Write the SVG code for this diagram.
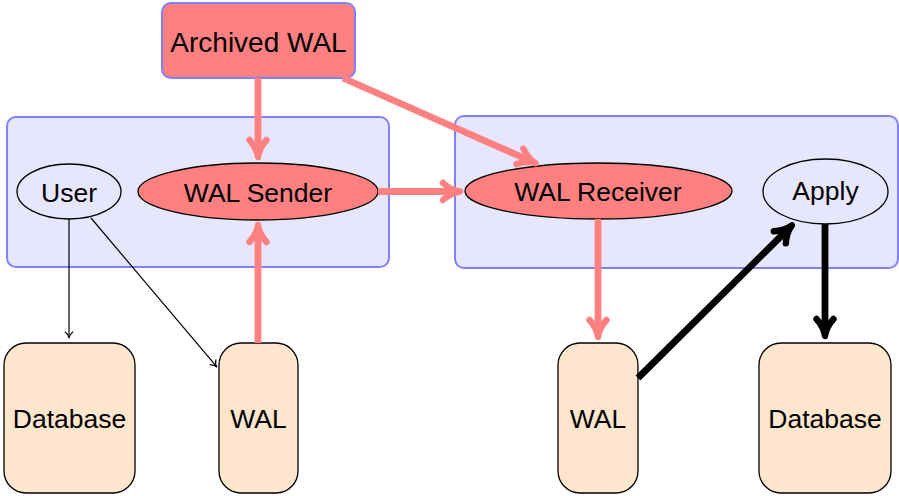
<svg xmlns="http://www.w3.org/2000/svg" width="899" height="496" viewBox="0 0 899 496">
<style>
.container{fill:#e6e6ff;stroke:#8080ff;stroke-width:2}
.archive{fill:#ff8080;stroke:#8080ff;stroke-width:2}
.proc{fill:#e6e6ff;stroke:#000;stroke-width:1.3}
.walproc{fill:#ff8080;stroke:#000;stroke-width:1.3}
.store{fill:#ffe6cc;stroke:#000;stroke-width:1.3}
text{font-family:"Liberation Sans",Arial,sans-serif;font-size:26.5px;fill:#000;text-anchor:middle}
.big{font-size:28px}
.pink{stroke:#ff8080;stroke-width:6.8;fill:none}
.black{stroke:#000;stroke-width:6.8;fill:none}
.thin{stroke:#000;stroke-width:1.2;fill:none}
</style>
<defs>
<marker id="ahPink" markerUnits="userSpaceOnUse" orient="auto" overflow="visible" refX="0" refY="0" markerWidth="1" markerHeight="1">
<path d="M -14,-8.5 C -8,-3 -1,-0.6 3,0 C -1,0.6 -8,3 -14,8.5" fill="none" stroke="#ff8080" stroke-width="6.4" stroke-linecap="round" stroke-linejoin="round"/>
</marker>
<marker id="ahBlack" markerUnits="userSpaceOnUse" orient="auto" overflow="visible" refX="0" refY="0" markerWidth="1" markerHeight="1">
<path d="M -14,-8.5 C -8,-3 -1,-0.6 3,0 C -1,0.6 -8,3 -14,8.5" fill="none" stroke="#000" stroke-width="6.4" stroke-linecap="round" stroke-linejoin="round"/>
</marker>
<marker id="ahThin" markerUnits="userSpaceOnUse" orient="auto" overflow="visible" refX="0" refY="0" markerWidth="1" markerHeight="1">
<path d="M -5,-3.8 C -3.2,-1.4 -0.8,-0.2 1,0 C -0.8,0.2 -3.2,1.4 -5,3.8" fill="none" stroke="#000" stroke-width="1.2" stroke-linecap="round" stroke-linejoin="round"/>
</marker>
</defs>

<g id="primary">
<rect class="container" x="7" y="117" width="382" height="150" rx="9"/>
</g>
<g id="standby">
<rect class="container" x="455" y="116" width="443" height="152" rx="9"/>
</g>

<g id="archived-wal">
<rect class="archive" x="162" y="3" width="193" height="75" rx="9"/>
<text class="big" x="258.5" y="51.5">Archived WAL</text>
</g>
<g id="user">
<ellipse class="proc" cx="69" cy="191.5" rx="52" ry="27.5"/>
<text x="69" y="202">User</text>
</g>
<g id="wal-sender">
<ellipse class="walproc" cx="258" cy="191.5" rx="120" ry="28.5"/>
<text x="258" y="202">WAL Sender</text>
</g>
<g id="wal-receiver">
<ellipse class="walproc" cx="598.5" cy="191" rx="133.5" ry="28"/>
<text x="598" y="201">WAL Receiver</text>
</g>
<g id="apply">
<ellipse class="proc" cx="825.5" cy="191.5" rx="62.5" ry="32.5"/>
<text x="825.5" y="199.5">Apply</text>
</g>
<g id="database-primary">
<rect class="store" x="4" y="343" width="131" height="150" rx="22"/>
<text x="69.5" y="428">Database</text>
</g>
<g id="wal-primary">
<rect class="store" x="219" y="343" width="79" height="150" rx="22"/>
<text x="258.5" y="428">WAL</text>
</g>
<g id="wal-standby">
<rect class="store" x="558" y="343" width="80" height="150" rx="22"/>
<text x="598" y="428">WAL</text>
</g>
<g id="database-standby">
<rect class="store" x="759" y="343" width="132" height="150" rx="22"/>
<text x="825" y="428">Database</text>
</g>

<g id="connectors">
<line class="pink" x1="258" y1="78" x2="258" y2="154" marker-end="url(#ahPink)"/>
<line class="pink" x1="343" y1="78" x2="532.7" y2="162" marker-end="url(#ahPink)"/>
<line class="pink" x1="378" y1="191.5" x2="457" y2="191.5" marker-end="url(#ahPink)"/>
<line class="pink" x1="258" y1="343" x2="258" y2="228" marker-end="url(#ahPink)"/>
<line class="pink" x1="598" y1="219" x2="598" y2="334" marker-end="url(#ahPink)"/>
<line class="black" x1="638" y1="378" x2="789.8" y2="227.5" marker-end="url(#ahBlack)"/>
<line class="black" x1="825" y1="224" x2="825" y2="333" marker-end="url(#ahBlack)"/>
<line class="thin" x1="69" y1="219" x2="69" y2="337" marker-end="url(#ahThin)"/>
<line class="thin" x1="91" y1="218" x2="216.2" y2="366.2" marker-end="url(#ahThin)"/>
</g>
</svg>
